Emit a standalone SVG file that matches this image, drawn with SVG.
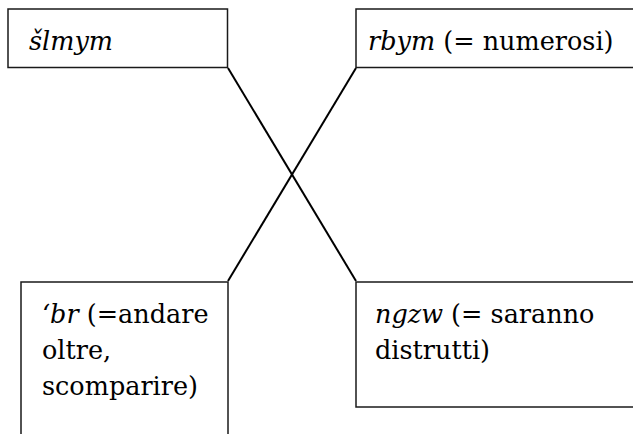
<svg xmlns="http://www.w3.org/2000/svg" width="633" height="434" viewBox="0 0 633 434">
<style>
.box{fill:#fff;stroke:#1a1a1a;stroke-width:1.5}
.t{font-family:'DejaVu Serif','Noto Serif','Liberation Serif',serif;font-size:25.5px;fill:#000}
.i{font-style:italic}
.c{stroke:#000;stroke-width:2;fill:none}
</style>
<rect width="633" height="434" fill="#fff"/>
<g id="connectors">
<line class="c" x1="228" y1="68" x2="356" y2="281"/>
<line class="c" x1="356" y1="68" x2="228" y2="281"/>
</g>
<g id="n1">
<rect class="box" x="8" y="9" width="219.5" height="58.5"/>
<text class="t i" x="29" y="50">šlmym</text>
</g>
<g id="n2">
<rect class="box" x="356" y="9" width="290" height="58.5"/>
<text class="t" x="368" y="50"><tspan class="i">rbym</tspan> (= numerosi)</text>
</g>
<g id="n3">
<rect class="box" x="21" y="282" width="207" height="170"/>
<text class="t" x="42" y="323"><tspan class="i">‘br</tspan> (=andare</text>
<text class="t" x="42" y="359">oltre,</text>
<text class="t" x="42" y="395">scomparire)</text>
</g>
<g id="n4">
<rect class="box" x="356" y="282" width="290" height="125"/>
<text class="t" x="375" y="323"><tspan class="i">ngzw</tspan> (= saranno</text>
<text class="t" x="375" y="359">distrutti)</text>
</g>
</svg>
